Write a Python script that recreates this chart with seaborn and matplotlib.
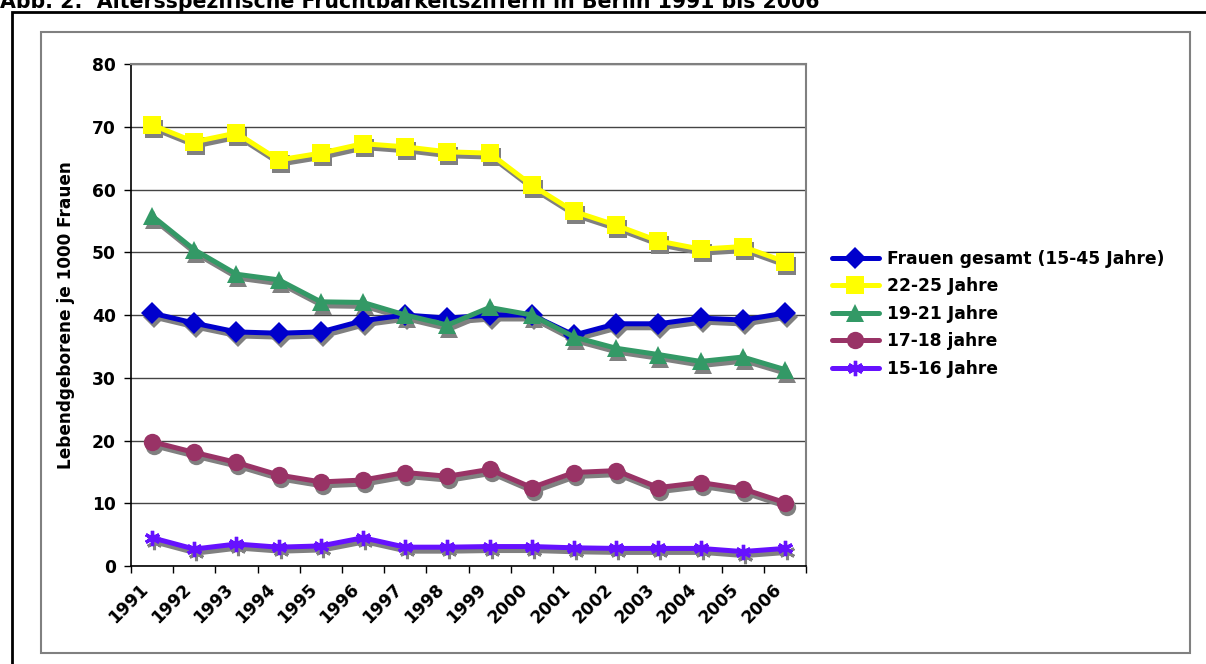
import matplotlib
matplotlib.use("Agg")
import matplotlib.pyplot as plt
import matplotlib.transforms as mtransforms
from matplotlib.patches import Rectangle
import pandas as pd
import seaborn as sns

# Altersspezifische Fruchtbarkeitsziffern Berlin 1991-2006 (Lebendgeborene je 1000 Frauen)
years = [str(y) for y in range(1991, 2007)]
gesamt = [40.3, 38.7, 37.3, 37.1, 37.3, 39.1, 40.0, 39.5, 40.0, 40.0, 36.8, 38.6, 38.6, 39.5, 39.2, 40.3]
j22_25 = [70.3, 67.6, 69.0, 64.7, 65.8, 67.3, 66.8, 66.0, 65.8, 60.7, 56.5, 54.3, 51.8, 50.5, 50.9, 48.5]
j19_21 = [55.8, 50.4, 46.5, 45.6, 42.1, 42.0, 40.0, 38.4, 41.2, 40.0, 36.5, 34.7, 33.7, 32.6, 33.3, 31.3]
j17_18 = [19.8, 18.1, 16.5, 14.5, 13.4, 13.7, 14.9, 14.3, 15.4, 12.5, 14.9, 15.2, 12.5, 13.3, 12.3, 10.1]
j15_16 = [4.5, 2.7, 3.5, 3.0, 3.2, 4.5, 3.0, 3.0, 3.1, 3.1, 2.9, 2.8, 2.8, 2.8, 2.3, 2.8]

labels = ["Frauen gesamt (15-45 Jahre)", "22-25 Jahre", "19-21 Jahre", "17-18 jahre", "15-16 Jahre"]
values = [gesamt, j22_25, j19_21, j17_18, j15_16]
colors = ["#0000CC", "#FFFF00", "#339966", "#993366", "#6611FF"]
markers = ["D", "s", "^", "o", (6, 2, 0)]
msizes = [11.5, 13, 13, 12.5, 11]

sns.set_style("white")
plt.rcParams['font.family'] = ['DejaVu Sans']
plt.rcParams['text.color'] = 'black'
plt.rcParams['axes.labelcolor'] = 'black'
plt.rcParams['xtick.color'] = 'black'
plt.rcParams['ytick.color'] = 'black'

W, H = 1206, 664
fig = plt.figure(figsize=(W / 100, H / 100), dpi=100)

# rahmen
fig.patches.append(Rectangle((12 / W, -0.1), 1.2, 1 - 12 / H + 0.1, transform=fig.transFigure,
                             fill=False, edgecolor="black", linewidth=2))
fig.patches.append(Rectangle((41 / W, 1 - 653 / H), (1190 - 41) / W, (653 - 32) / H,
                             transform=fig.transFigure, fill=False, edgecolor="#808080", linewidth=1.5))
fig.text(0, 1 - 8 / H, "Abb. 2:  Altersspezifische Fruchtbarkeitsziffern in Berlin 1991 bis 2006",
         fontsize=14.8, fontweight="bold", ha="left", va="baseline")

ax = fig.add_axes([131 / W, 1 - 566 / H, (806 - 131) / W, (566 - 64) / H])
pos = list(range(len(years)))
shadow = mtransforms.offset_copy(ax.transData, fig=fig, x=2, y=-4, units='dots')

# Schatten zuerst
for vals, mk, ms in zip(values, markers, msizes):
    df = pd.DataFrame({"pos": pos, "wert": vals})
    sns.lineplot(data=df, x="pos", y="wert", ax=ax, color="#808080", marker=mk, markersize=ms,
                 markeredgecolor="#808080", markeredgewidth=2.2 if mk == markers[-1] else 0,
                 linewidth=3.6, transform=shadow, legend=False, zorder=2)

for lab, vals, col, mk, ms in zip(labels, values, colors, markers, msizes):
    df = pd.DataFrame({"pos": pos, "wert": vals})
    sns.lineplot(data=df, x="pos", y="wert", ax=ax, color=col, marker=mk, markersize=ms,
                 markeredgecolor=col, markeredgewidth=2.4 if mk == markers[-1] else 0,
                 linewidth=3.6, label=lab, zorder=3)

ax.set_xlim(-0.5, len(years) - 0.5)
ax.set_ylim(0, 80)
ax.set_yticks(range(0, 81, 10))
ax.set_xticks([p - 0.5 for p in range(len(years) + 1)])
ax.set_xticklabels([])
ax.set_xticks(pos, minor=True)
ax.set_xticklabels(years, minor=True, rotation=45, ha="right", fontsize=12.3, fontweight="bold")
ax.tick_params(axis="x", which="major", direction="out", length=5, width=1, color="black", bottom=True)
ax.tick_params(axis="x", which="minor", length=0, pad=10)
ax.tick_params(axis="y", direction="out", length=5, width=1, color="black", left=True, labelsize=12.3, pad=6)
for t in ax.get_yticklabels():
    t.set_fontweight("bold")

ax.grid(axis="y", color="#444444", linewidth=1)
ax.grid(axis="x", visible=False)
for s in ["left", "bottom"]:
    ax.spines[s].set_color("black")
    ax.spines[s].set_linewidth(1.2)
for s in ["top", "right"]:
    ax.spines[s].set_color("#808080")
    ax.spines[s].set_linewidth(1.5)

ax.set_xlabel("")
ax.set_ylabel("Lebendgeborene je 1000 Frauen", fontsize=12.2, fontweight="bold")
ax.yaxis.set_label_coords(-0.083, 0.5)

handles, labs = ax.get_legend_handles_labels()
leg = ax.legend(handles, labs, loc="upper left", bbox_to_anchor=(832 / W, 1 - 250 / H),
                bbox_transform=fig.transFigure, frameon=False, borderpad=0, borderaxespad=0,
                handlelength=2.75, handletextpad=0.45, labelspacing=0.55,
                prop={"size": 12.3, "weight": "bold"})

fig.savefig("out.png", dpi=100)
